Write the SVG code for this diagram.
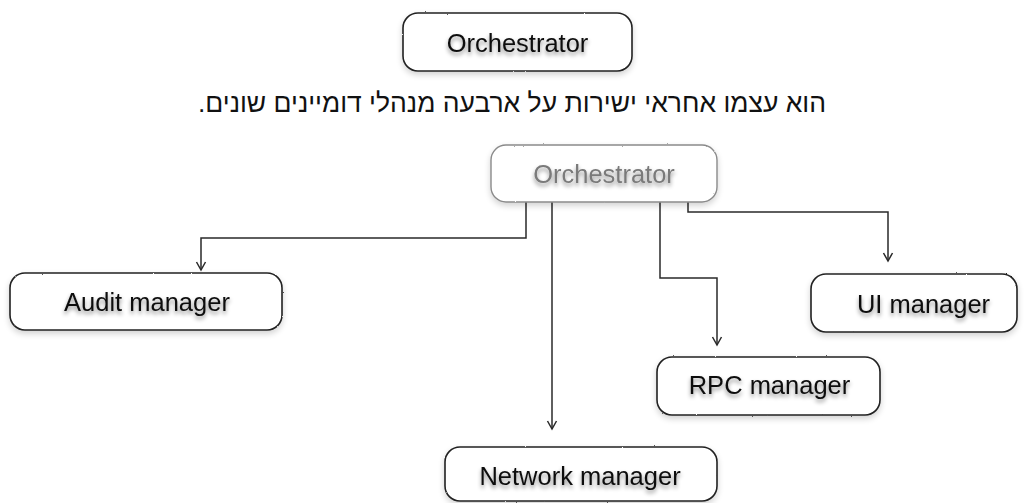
<svg xmlns="http://www.w3.org/2000/svg" width="1025" height="503" viewBox="0 0 1025 503">
  <defs>
    <style>
      .box { fill: #ffffff; stroke: #222; stroke-width: 1.6; filter: url(#sketch); }
      .box.dim { stroke: #8a8a8a; stroke-width: 1.4; }
      .label { font-family: "Liberation Sans", Arial, sans-serif; font-size: 25.5px; fill: #111; text-anchor: middle; filter: url(#glow); }
      .label.dim { fill: #7a7a7a; }
      .note { font-family: "Liberation Sans", "DejaVu Sans", sans-serif; font-size: 26.5px; fill: #111; text-anchor: middle; }
      .wire { fill: none; stroke: #2a2a2a; stroke-width: 1.5; marker-end: url(#tip); }
    </style>
    <!-- slightly rough pencil edge for the node outlines -->
    <filter id="sketch" x="-5%" y="-20%" width="110%" height="150%">
      <feTurbulence type="fractalNoise" baseFrequency="0.9" numOctaves="2" seed="3" result="n"/>
      <feDisplacementMap in="SourceGraphic" in2="n" scale="1.6" xChannelSelector="R" yChannelSelector="G" result="d"/>
      <feGaussianBlur in="SourceAlpha" stdDeviation="3" result="b"/>
      <feOffset in="b" dy="3" result="o"/>
      <feComponentTransfer in="o" result="s">
        <feFuncA type="linear" slope="0.18"/>
      </feComponentTransfer>
      <feMerge>
        <feMergeNode in="s"/>
        <feMergeNode in="d"/>
      </feMerge>
    </filter>
    <!-- soft shadow under the label text -->
    <filter id="glow" x="-10%" y="-30%" width="120%" height="170%">
      <feDropShadow dx="0" dy="3" stdDeviation="2" flood-color="#000" flood-opacity="0.45"/>
    </filter>
    <marker id="tip" viewBox="-10 -6 12 12" refX="0" refY="0" markerWidth="12" markerHeight="12" markerUnits="userSpaceOnUse" orient="auto">
      <path d="M-8,-4.5 L0,0 L-8,4.5" fill="none" stroke="#2a2a2a" stroke-width="1.5"/>
    </marker>
  </defs>

  <g id="orchestrator-top">
    <rect class="box" x="403" y="13" width="229" height="58" rx="15"/>
    <text class="label" x="517.5" y="52">Orchestrator</text>
  </g>

  <text id="caption" class="note" x="512" y="112" direction="rtl">הוא עצמו אחראי ישירות על ארבעה מנהלי דומיינים שונים.</text>

  <g id="connectors">
    <path class="wire" d="M526 202 V238 H201 V270"/>
    <path class="wire" d="M552 202 V429"/>
    <path class="wire" d="M660 202 V278 H717 V345"/>
    <path class="wire" d="M688 202 V212 H888 V261"/>
  </g>

  <g id="orchestrator">
    <rect class="box dim" x="491" y="145" width="226" height="57" rx="15"/>
    <text class="label dim" x="604" y="183">Orchestrator</text>
  </g>

  <g id="audit-manager">
    <rect class="box" x="10" y="273" width="272" height="57" rx="15"/>
    <text class="label" x="147" y="311">Audit manager</text>
  </g>

  <g id="ui-manager">
    <rect class="box" x="811" y="274" width="206" height="58" rx="15"/>
    <text class="label" x="923.5" y="313">UI manager</text>
  </g>

  <g id="rpc-manager">
    <rect class="box" x="657" y="357" width="223" height="58" rx="15"/>
    <text class="label" x="769.5" y="394">RPC manager</text>
  </g>

  <g id="network-manager">
    <rect class="box" x="445" y="447" width="272" height="54" rx="15"/>
    <text class="label" x="580" y="485">Network manager</text>
  </g>
</svg>
